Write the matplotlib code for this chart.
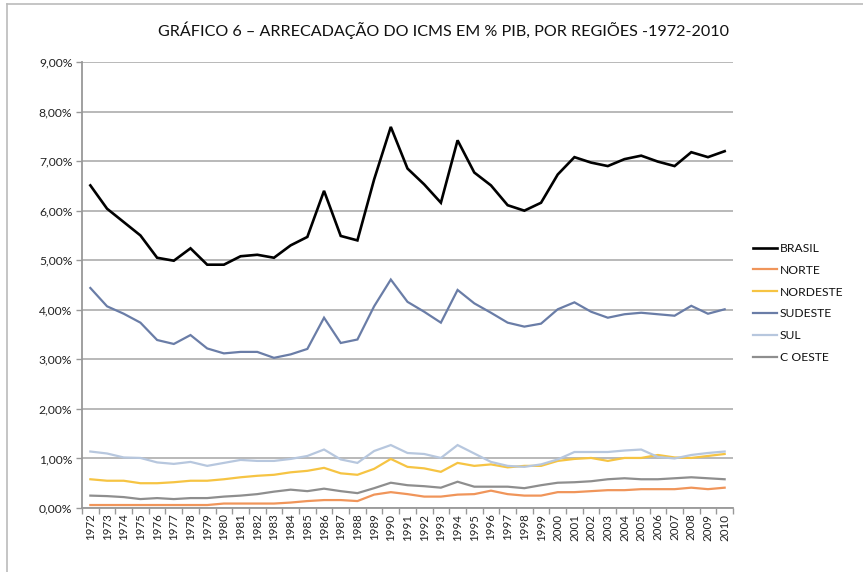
import matplotlib
matplotlib.use("Agg")
import matplotlib.pyplot as plt
from matplotlib.lines import Line2D
from matplotlib.ticker import FixedLocator, FuncFormatter

plt.rcParams['font.family'] = ['Lato', 'DejaVu Sans']

years = [str(y) for y in range(1972, 2011)]

brasil = [6.51, 6.04, 5.77, 5.50, 5.05, 4.99, 5.24, 4.91, 4.91, 5.08,
          5.11, 5.05, 5.30, 5.47, 6.40, 5.49, 5.40, 6.63, 7.69, 6.85,
          6.53, 6.16, 7.42, 6.77, 6.51, 6.11, 6.00, 6.16, 6.73, 7.08,
          6.97, 6.90, 7.04, 7.11, 6.99, 6.90, 7.18, 7.08, 7.20]
norte = [0.06, 0.06, 0.06, 0.06, 0.06, 0.06, 0.06, 0.06, 0.09, 0.09,
         0.09, 0.09, 0.11, 0.14, 0.16, 0.16, 0.14, 0.27, 0.32, 0.28,
         0.23, 0.23, 0.27, 0.28, 0.35, 0.28, 0.25, 0.25, 0.32, 0.32,
         0.34, 0.36, 0.36, 0.38, 0.38, 0.38, 0.41, 0.38, 0.41]
nordeste = [0.58, 0.55, 0.55, 0.50, 0.50, 0.52, 0.55, 0.55, 0.58, 0.62,
            0.65, 0.67, 0.72, 0.75, 0.81, 0.70, 0.67, 0.79, 0.99, 0.83,
            0.80, 0.73, 0.91, 0.85, 0.88, 0.82, 0.85, 0.85, 0.95, 0.99,
            1.01, 0.95, 1.01, 1.01, 1.07, 1.02, 1.01, 1.05, 1.09]
sudeste = [4.44, 4.07, 3.92, 3.74, 3.39, 3.31, 3.49, 3.22, 3.12, 3.15,
           3.15, 3.03, 3.10, 3.21, 3.84, 3.33, 3.40, 4.07, 4.61, 4.16,
           3.96, 3.74, 4.40, 4.13, 3.94, 3.74, 3.66, 3.72, 4.01, 4.15,
           3.96, 3.84, 3.91, 3.94, 3.91, 3.88, 4.08, 3.92, 4.01]
sul = [1.14, 1.10, 1.02, 1.01, 0.92, 0.89, 0.93, 0.85, 0.91, 0.97,
       0.95, 0.95, 0.99, 1.05, 1.18, 0.98, 0.91, 1.15, 1.27, 1.11,
       1.09, 1.01, 1.27, 1.10, 0.93, 0.85, 0.83, 0.88, 0.98, 1.13,
       1.13, 1.13, 1.16, 1.18, 1.03, 1.00, 1.07, 1.11, 1.14]
coeste = [0.25, 0.24, 0.22, 0.18, 0.20, 0.18, 0.20, 0.20, 0.23, 0.25,
          0.28, 0.33, 0.37, 0.34, 0.39, 0.34, 0.30, 0.40, 0.51, 0.46,
          0.44, 0.41, 0.53, 0.43, 0.43, 0.43, 0.40, 0.46, 0.51, 0.52,
          0.54, 0.58, 0.60, 0.58, 0.58, 0.60, 0.62, 0.60, 0.58]

series_names = ['BRASIL', 'NORTE', 'NORDESTE', 'SUDESTE', 'SUL', 'C OESTE']
series_values = [brasil, norte, nordeste, sudeste, sul, coeste]
colors = ['#000000', '#F0955A', '#F6C443', '#6A7DA7', '#B7C7DE', '#8E8E8E']
widths = [1.9, 1.6, 1.6, 1.6, 1.6, 1.6]
yticks = [0, 1, 2, 3, 4, 5, 6, 7, 8, 9]
title = 'GRÁFICO 6 – ARRECADAÇÃO DO ICMS EM % PIB, POR REGIÕES -1972-2010'

fig = plt.figure(figsize=(8.63, 5.72), dpi=100)
ax = fig.add_axes([82/863, 1-508/572, (733-82)/863, (508-62)/572])

x = list(range(len(years)))
handles = []
for name, vals, c, w in zip(series_names, series_values, colors, widths):
    ln, = ax.plot(x, vals, color=c, lw=w, label=name, solid_joinstyle='miter', zorder=3)
    handles.append(ln)

ax.set_xlim(-0.5, len(years) - 0.5)
ax.set_ylim(0, 9)
ax.set_yticks(yticks)
ax.yaxis.set_major_formatter(FuncFormatter(lambda v, p: f'{v:.2f}%'.replace('.', ',')))
ax.grid(axis='y', color='#A6A6A6', lw=1.1, zorder=1)
ax.set_xticks(x)
ax.set_xticklabels(years, rotation=90, fontsize=8.3, color='#222222')
ax.xaxis.set_minor_locator(FixedLocator([i - 0.5 for i in range(len(years) + 1)]))
ax.tick_params(axis='x', which='major', length=0, pad=4)
ax.tick_params(axis='x', which='minor', length=4, color='#999999', width=1)
ax.tick_params(axis='y', length=4, color='#999999', width=1, labelsize=8.7,
               labelcolor='#222222', pad=3)
for s in ['top', 'right']:
    ax.spines[s].set_visible(False)
for s in ['left', 'bottom']:
    ax.spines[s].set_color('#999999')
    ax.spines[s].set_linewidth(1.3)

fig.text(443/863, 1-30/572, title, ha='center', va='center', fontsize=11.6, color='#111111')

leg = fig.legend(handles=handles, loc='upper left', bbox_to_anchor=(748/863, 1-238/572),
                 frameon=False, fontsize=8.7, handlelength=2.0, handletextpad=0.25,
                 labelspacing=0.9, borderaxespad=0)
for t in leg.get_texts():
    t.set_color('#111111')

fig.add_artist(Line2D([7/863, 7/863], [0, 1-4/572], color='#BBBBBB', lw=1.2))
fig.add_artist(Line2D([7/863, 1], [1-4/572, 1-4/572], color='#BBBBBB', lw=1.2))

fig.savefig('out.png', dpi=100)
